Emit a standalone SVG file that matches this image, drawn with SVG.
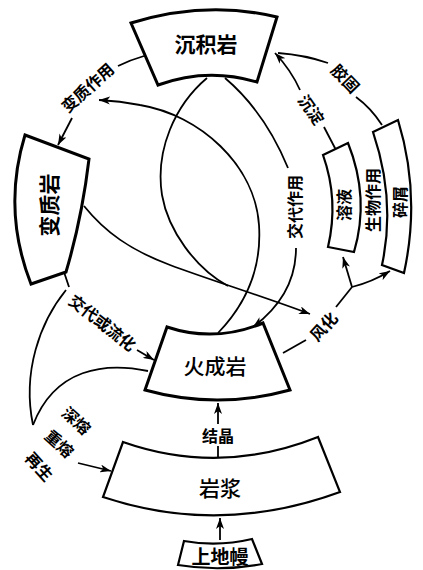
<svg xmlns="http://www.w3.org/2000/svg" width="423" height="570" viewBox="0 0 423 570">
<defs>
<marker id="ah" markerUnits="userSpaceOnUse" markerWidth="12" markerHeight="8" refX="11" refY="4" orient="auto"><path d="M0,0 L11,4 L0,8 L3,4 Z" fill="#000"/></marker>
<style>
.box{fill:#fff;stroke:#000;stroke-width:3;stroke-linejoin:miter}
.c{fill:none;stroke:#000;stroke-width:1.8}
.t{font-family:"Noto Sans CJK SC","Noto Sans CJK JP",sans-serif;text-anchor:middle;dominant-baseline:central;fill:#000}
.bt{font-size:21px;font-weight:700}
.mt{font-size:21px;font-weight:500}
.lt{font-size:16px;font-weight:700}
</style>
</defs>
<rect width="423" height="570" fill="#fff"/>
<g id="connectors">
<path class="c" d="M220,540 L220,518" marker-end="url(#ah)"/>
<path class="c" d="M218,457 L218,446"/>
<path class="c" d="M218,424 L218,403" marker-end="url(#ah)"/>
<path class="c" d="M144,56 Q130,60 118,66"/>
<path class="c" d="M72,118 L58,145" marker-end="url(#ah)"/>
<path class="c" d="M64,272 L69,287"/>
<path class="c" d="M137,350 L154,360" marker-end="url(#ah)"/>
<path class="c" d="M66,290 C40,322 22,372 33,425"/>
<path class="c" d="M148,371 C105,362 55,368 33,425"/>
<path class="c" d="M78,463 L111,471" marker-end="url(#ah)"/>
<path class="c" d="M84,206 C105,232 130,250 170,265 S262,296 310,314" marker-end="url(#ah)"/>
<path class="c" d="M207,78 C175,105 155,150 162,195 C168,230 195,268 228,286"/>
<path class="c" d="M218,333 C245,305 262,270 259,225 C255,165 200,115 140,105 Q120,101 99,100" marker-end="url(#ah)"/>
<path class="c" d="M225,78 Q265,112 288,168"/>
<path class="c" d="M296,248 Q296,295 253,327" marker-end="url(#ah)"/>
<path class="c" d="M283,353 L306,340"/>
<path class="c" d="M336,307 L352,287"/>
<path class="c" d="M352,287 L343,257" marker-end="url(#ah)"/>
<path class="c" d="M352,287 Q372,282 390,271" marker-end="url(#ah)"/>
<path class="c" d="M336,150 L324,127"/>
<path class="c" d="M300,90 Q291,70 275,53" marker-end="url(#ah)"/>
<path class="c" d="M382,125 Q371,108 356,97"/>
<path class="c" d="M328,63 Q305,55 278,53"/>
<text class="t lt" transform="translate(87,87) rotate(-42)">变质作用</text>
<text class="t lt" transform="translate(103,322) rotate(38)">交代或流化</text>
<text class="t lt" transform="translate(77,420) rotate(42)">深熔</text>
<text class="t lt" transform="translate(60,443) rotate(42)">重熔</text>
<text class="t lt" transform="translate(40,466) rotate(48)">再生</text>
<text class="t lt" x="218" y="435">结晶</text>
<text class="t lt" transform="translate(323,326) rotate(-48)">风化</text>
<text class="t lt" transform="translate(294,207) rotate(-90)">交代作用</text>
<text class="t lt" transform="translate(372,200) rotate(-90)">生物作用</text>
<text class="t lt" transform="translate(312,109) rotate(55)">沉淀</text>
<text class="t lt" transform="translate(346,78) rotate(46)">胶固</text>
</g>
<g id="chenjiyan"><path class="box" d="M131,23 Q206,0 277,17 L257,82 Q207,67 158,85 Z"/><text class="t bt" x="206" y="43">沉积岩</text></g>
<g id="bianzhiyan"><path class="box" d="M25,135 L89,159 Q82,218 66,272 L31,284 Q2,210 25,135 Z"/><text class="t bt" transform="translate(48,205) rotate(-90)">变质岩</text></g>
<g id="huochengyan"><path class="box" d="M167,327 Q215,343 263,323 L290,390 Q217,410 145,390 Z"/><text class="t mt" x="215" y="365">火成岩</text></g>
<g id="yanjiang"><path class="box" d="M123,442 Q220,476 318,437 L340,492 Q220,536 103,497 Z" style="stroke-width:2.2"/><text class="t mt" x="220" y="487">岩浆</text></g>
<g id="shangdiman"><path class="box" d="M184,541 Q218,547 252,539 L262,564 Q220,572 178,565 Z" style="stroke-width:2.2"/><text class="t" style="font-size:19px;font-weight:700" x="220" y="555">上地幔</text></g>
<g id="rongye"><path class="box" d="M323,155 L348,143 Q370,198 354,252 L328,247 Q339,200 323,155 Z" style="stroke-width:2.2"/><text class="t lt" transform="translate(343,205) rotate(-90)">溶液</text></g>
<g id="suixie"><path class="box" d="M373,132 L398,120 Q421,195 404,273 L382,265 Q396,200 373,132 Z" style="stroke-width:2.2"/><text class="t lt" transform="translate(399,202) rotate(-90)">碎屑</text></g>
</svg>
